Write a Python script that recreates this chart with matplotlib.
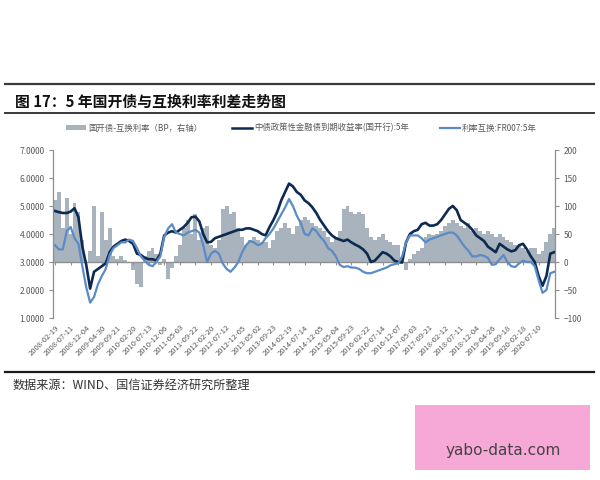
import numpy as np
import matplotlib
matplotlib.use('Agg')
import matplotlib.pyplot as plt
from matplotlib.lines import Line2D
from matplotlib.patches import Patch, Rectangle

plt.rcParams['font.family'] = ['Noto Sans CJK SC', 'DejaVu Sans']

tick_labels = ['2008-02-19', '2008-07-11', '2008-12-04', '2009-04-30', '2009-09-21',
               '2010-02-20', '2010-07-13', '2010-12-06', '2011-05-03', '2011-09-22',
               '2012-02-20', '2012-07-12', '2012-12-05', '2013-05-02', '2013-09-23',
               '2014-02-19', '2014-07-14', '2014-12-05', '2015-05-04', '2015-09-23',
               '2016-02-22', '2016-07-14', '2016-12-07', '2017-05-03', '2017-09-21',
               '2018-02-12', '2018-07-11', '2018-12-04', '2019-04-26', '2019-09-18',
               '2020-02-18', '2020-07-10']

# 5Y CDB bond yield (%), 4 readings per label interval
cdb_5y = [4.82, 4.78, 4.75, 4.75, 4.80, 4.92, 4.60, 3.55, 2.90, 2.05,
          2.65, 2.75, 2.85, 2.95, 3.35, 3.55, 3.65, 3.75, 3.80, 3.75,
          3.65, 3.30, 3.25, 3.15, 3.10, 3.10, 3.05, 3.30, 3.95, 4.05,
          4.10, 4.05, 4.15, 4.25, 4.40, 4.60, 4.62, 4.45, 4.00, 3.70,
          3.72, 3.85, 3.90, 3.95, 4.00, 4.05, 4.10, 4.15, 4.15, 4.20,
          4.20, 4.15, 4.10, 4.00, 3.95, 4.25, 4.50, 4.80, 5.20, 5.50,
          5.80, 5.70, 5.50, 5.40, 5.20, 5.10, 4.95, 4.75, 4.50, 4.30,
          4.10, 3.95, 3.85, 3.80, 3.75, 3.80, 3.70, 3.62, 3.55, 3.45,
          3.30, 3.00, 3.05, 3.20, 3.35, 3.30, 3.20, 3.05, 3.00, 2.98,
          3.70, 4.00, 4.10, 4.15, 4.35, 4.40, 4.30, 4.30, 4.35, 4.50,
          4.70, 4.90, 5.00, 4.85, 4.50, 4.40, 4.30, 4.15, 3.95, 3.85,
          3.75, 3.55, 3.45, 3.35, 3.65, 3.55, 3.45, 3.38, 3.42, 3.60,
          3.65, 3.45, 3.20, 3.00, 2.50, 2.15, 2.50, 3.30, 3.35]

# 5Y IRS FR007 (%)
irs_5y = [3.60, 3.45, 3.45, 4.10, 4.25, 3.85, 3.65, 2.85, 2.10, 1.55,
          1.75, 2.20, 2.50, 2.75, 3.25, 3.50, 3.60, 3.70, 3.70, 3.80,
          3.75, 3.50, 3.20, 3.05, 2.90, 2.85, 3.00, 3.20, 3.90, 4.20,
          4.35, 4.05, 4.00, 3.95, 4.05, 4.10, 4.15, 4.05, 3.60, 3.00,
          3.30, 3.40, 3.30, 2.95, 2.75, 2.65, 2.80, 3.00, 3.35, 3.60,
          3.75, 3.70, 3.60, 3.65, 3.85, 4.00, 4.20, 4.45, 4.70, 4.95,
          5.25, 5.00, 4.65, 4.40, 4.00, 3.95, 4.20, 4.10, 3.90, 3.75,
          3.50, 3.40, 3.20, 2.90, 2.82, 2.85, 2.80, 2.80, 2.75, 2.65,
          2.60, 2.60, 2.65, 2.70, 2.75, 2.80, 2.88, 2.92, 2.95, 3.20,
          3.70, 3.95, 3.95, 3.95, 3.85, 3.70, 3.80, 3.85, 3.90, 3.95,
          4.00, 4.05, 4.05, 3.95, 3.75, 3.55, 3.40, 3.20, 3.20, 3.25,
          3.22, 3.15, 2.90, 2.92, 3.10, 3.25, 3.00, 2.85, 2.82, 2.95,
          3.05, 3.00, 3.00, 2.85, 2.35, 1.90, 2.00, 2.60, 2.65]

# Spread (bp, right axis)
spread_bp = [110, 125, 60, 115, 50, 105, 90, 40, 0, 20,
             100, 10, 90, 40, 60, 10, 5, 10, 3, 0,
             -15, -40, -45, 10, 20, 25, 15, -5, 5, -30,
             -10, 10, 30, 60, 75, 50, 85, 40, 60, 65,
             30, 25, 40, 95, 100, 85, 90, 60, 45, 30,
             40, 45, 40, 35, 35, 25, 40, 55, 60, 70,
             60, 50, 65, 75, 80, 75, 70, 65, 60, 55,
             45, 35, 45, 55, 95, 100, 90, 85, 90, 85,
             60, 45, 40, 45, 50, 40, 35, 30, 30, 0,
             -15, 5, 15, 20, 25, 45, 50, 48, 50, 55,
             65, 70, 75, 70, 65, 60, 70, 55, 60, 55,
             50, 55, 50, 45, 50, 45, 40, 35, 30, 30,
             25, 20, 25, 25, 15, 20, 35, 50, 60]

per_label = 4
x = np.arange(len(cdb_5y)) / per_label

grey = '#a9b3bd'
navy = '#0c2a52'
lblue = '#5b8bc6'
axis_c = '#8f8f8f'
txt_c = '#595959'

fig = plt.figure(figsize=(6, 4.8), dpi=100)
ax = fig.add_axes([53 / 600, 1 - 318 / 480, (555 - 53) / 600, (318 - 150) / 480])
ax2 = ax.twinx()

ax2.bar(x, spread_bp, width=1 / per_label, color=grey, linewidth=0, align='center')
ax.plot(x, cdb_5y, color=navy, lw=1.9, solid_joinstyle='round')
ax.plot(x, irs_5y, color=lblue, lw=1.6, solid_joinstyle='round')

ax.set_zorder(ax2.get_zorder() + 1)
ax.patch.set_visible(False)

ax.set_xlim(-0.13, 32.05)
ax.set_ylim(1, 7)
ax2.set_ylim(-100, 200)

ax.set_yticks(range(1, 8))
ax.set_yticklabels([f'{v:.4f}' for v in range(1, 8)])
ax2.set_yticks(range(-100, 201, 50))

ax.set_xticks(range(len(tick_labels)))
ax.set_xticklabels(tick_labels, rotation=45, ha='right', va='top',
                   rotation_mode='anchor', fontsize=5.5, color=txt_c)
ax.tick_params(axis='x', length=0, pad=4)
ax.tick_params(axis='y', labelsize=6, labelcolor=txt_c, length=3, color=axis_c, width=0.8, pad=3)
ax2.tick_params(axis='y', labelsize=6, labelcolor=txt_c, length=3, color=axis_c, width=0.8, pad=3)

for s in ['top', 'bottom', 'right']:
    ax.spines[s].set_visible(False)
for s in ['top', 'bottom', 'left']:
    ax2.spines[s].set_visible(False)
ax.spines['left'].set_color(axis_c)
ax2.spines['right'].set_color(axis_c)
ax.spines['left'].set_linewidth(0.9)
ax2.spines['right'].set_linewidth(0.9)

# horizontal category axis crossing at zero spread
sec = ax.secondary_xaxis((3 - 1) / (7 - 1))
sec.set_xticks(range(len(tick_labels)))
sec.set_xticklabels([])
sec.tick_params(axis='x', length=2.5, color=axis_c, width=0.8, direction='out')
sec.spines['bottom'].set_color(axis_c)
sec.spines['bottom'].set_linewidth(1.0)

# legend
handles = [Patch(facecolor=grey, edgecolor='none'),
           Line2D([], [], color=navy, lw=1.8),
           Line2D([], [], color=lblue, lw=1.6)]
labels = ['国开债-互换利率（BP，右轴）', '中债政策性金融债到期收益率(国开行):5年', '利率互换:FR007:5年']
fig.legend(handles, labels, loc='center', bbox_to_anchor=(0.502, 1 - 128 / 480), ncol=3,
           frameon=False, fontsize=6, labelcolor=txt_c, handlelength=2.4,
           handleheight=0.6, handletextpad=0.3, columnspacing=3.6)

# title block and rules
fig.add_artist(Line2D([0.008, 0.99], [1 - 84 / 480] * 2, transform=fig.transFigure, color='#3a3a3a', lw=1.6))
fig.add_artist(Line2D([0.008, 0.99], [1 - 113 / 480] * 2, transform=fig.transFigure, color='#3a3a3a', lw=1.4))
fig.add_artist(Line2D([0.008, 0.99], [1 - 372 / 480] * 2, transform=fig.transFigure, color='#1a1a1a', lw=1.6))
fig.text(15 / 600, 1 - 101.5 / 480, '图 17：5 年国开债与互换利率利差走势图', fontsize=10.7,
         fontweight='bold', va='center', ha='left', color='#111111')
fig.text(13 / 600, 1 - 385 / 480, '数据来源：WIND、国信证券经济研究所整理', fontsize=8.7,
         va='center', ha='left', color='#333333')

# watermark
fig.add_artist(Rectangle((415 / 600, 1 - 470 / 480), 175 / 600, 65 / 480,
                         transform=fig.transFigure, facecolor='#f6a8d6', edgecolor='none'))
fig.text(503 / 600, 1 - 451 / 480, 'yabo-data.com', fontsize=11, ha='center', va='center',
         color='#444444', family=['DejaVu Sans'])

fig.savefig('out.png', dpi=100)
